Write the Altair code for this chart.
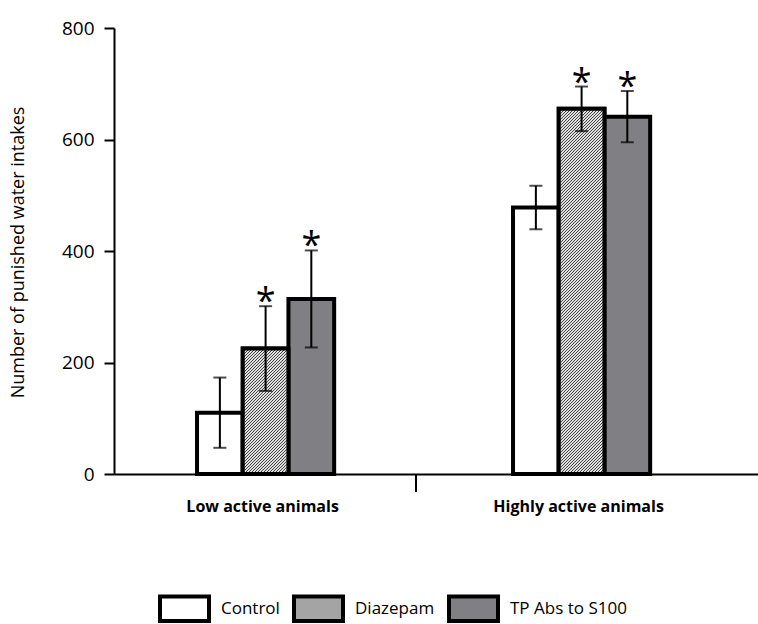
import math
import altair as alt
import pandas as pd

# ---- data ----
groups = ["Low active animals", "Highly active animals"]
series = ["Control", "Diazepam", "TP Abs to S100"]
means_low = [110, 225, 314]
means_high = [478, 655, 641]
errs_low = [63, 76, 87]
errs_high = [39, 40, 46]
stars_low = ["", "*", "*"]
stars_high = ["", "*", "*"]
series_colors = ["#ffffff", "#a4a4a4", "#808084"]
y_ticks = [0, 200, 400, 600, 800]

means = [means_low, means_high]
errs = [errs_low, errs_high]
stars = [stars_low, stars_high]

rows = []
for gi, g in enumerate(groups):
    for si, s in enumerate(series):
        m, e = means[gi][si], errs[gi][si]
        rows.append(dict(group=g, series=s, mean=m, lo=m - e, hi=m + e,
                         star=stars[gi][si]))
df = pd.DataFrame(rows)

# ---- layout ----
W, H = 644, 446
YMAX = 800
PAD_INNER, PAD_OUTER, ALIGN = 0.566, 0.302, 0.435
step = W / (len(groups) - PAD_INNER + 2 * PAD_OUTER)
bar_w = step * (1 - PAD_INNER) / len(series)


def hatch(w, h, hperiod=3.0, frac=0.45, dark="#404040", light="#e0e0e0"):
    """Diagonal '/' stripes as a hard-stop linear gradient (bbox units).
    The stripe period is fixed exactly (hperiod px horizontally)."""
    p = hperiod / math.sqrt(2)
    L = (w + h) / math.sqrt(2)
    n = math.ceil(L / p)
    stops = []
    for k in range(n):
        a, b, c = k / n, (k + frac) / n, (k + 1) / n
        stops += [{"offset": round(a, 6), "color": dark},
                  {"offset": round(b, 6), "color": dark},
                  {"offset": round(b, 6), "color": light},
                  {"offset": round(c, 6), "color": light}]
    cc = (1 / h + 1 / w) / (1 / h ** 2 + 1 / w ** 2)
    s = n * p / L
    return {"gradient": "linear", "x1": 0, "y1": 0,
            "x2": s * cc / h, "y2": s * cc / w, "stops": stops}


xscale = alt.Scale(domain=groups, paddingInner=PAD_INNER,
                   paddingOuter=PAD_OUTER, align=ALIGN)
yscale = alt.Scale(domain=[0, YMAX], nice=False)

base = alt.Chart(df).encode(
    x=alt.X("group:N", scale=xscale, sort=groups,
            axis=alt.Axis(title=None, labelAngle=0, labelFontSize=16,
                          labelFontWeight="bold", labelColor="black",
                          ticks=False, tickSize=0, labelPadding=24,
                          labelOffset=-3,
                          domainWidth=2, domainColor="black")),
    xOffset=alt.XOffset("series:N", sort=series,
                        scale=alt.Scale(domain=series, paddingInner=0,
                                        paddingOuter=0)),
)

bars = base.mark_bar(stroke="black", strokeWidth=4).encode(
    y=alt.Y("mean:Q", scale=yscale,
            axis=alt.Axis(values=y_ticks, title="Number of punished water intakes",
                          titleFontSize=18, titleFontWeight="normal",
                          titleColor="black", titleX=-96, titleY=224,
                          titleBaseline="middle", titleAlign="center",
                          labelFontSize=19, labelColor="black", labelPadding=10,
                          tickSize=10, tickWidth=2, tickColor="black",
                          domainWidth=2, domainColor="black", grid=False)),
    fill=alt.Fill("series:N", sort=series,
                  scale=alt.Scale(domain=series, range=series_colors),
                  legend=alt.Legend(
                      orient="none", legendX=44, legendY=554,
                      direction="horizontal", title=None,
                      symbolType="M-1,-0.5H1V0.5H-1Z", symbolSize=2401,
                      symbolStrokeWidth=4, symbolStrokeColor="black",
                      symbolOpacity=1, labelFontSize=17, labelColor="black",
                      labelOffset=10, columnPadding=6, padding=0,
                  )),
)

hatch_layers = []
for gi, g in enumerate(groups):
    h_px = means[gi][1] / YMAX * H
    hatch_layers.append(
        base.transform_filter(
            (alt.datum.group == g) & (alt.datum.series == "Diazepam")
        ).mark_bar(fill=hatch(bar_w, h_px), stroke="black", strokeWidth=4)
        .encode(y=alt.Y("mean:Q", scale=yscale))
    )

err_rule = base.mark_rule(color="black", strokeWidth=2).encode(
    y=alt.Y("lo:Q", scale=yscale), y2="hi:Q")
cap_hi = base.mark_tick(orient="horizontal", size=13, thickness=2,
                        color="black").encode(y=alt.Y("hi:Q", scale=yscale))
cap_lo = base.mark_tick(orient="horizontal", size=13, thickness=2,
                        color="black").encode(y=alt.Y("lo:Q", scale=yscale))
star_text = base.transform_filter(alt.datum.star != "").mark_text(
    fontSize=36, baseline="alphabetic", dy=7, color="black"
).encode(y=alt.Y("hi:Q", scale=yscale), text="star:N")

mid_tick = alt.Chart(pd.DataFrame({"k": [0]})).mark_rule(
    color="black", strokeWidth=2
).encode(x=alt.value(302), y=alt.value(H), y2=alt.value(H + 18))

chart = alt.layer(bars, *hatch_layers, err_rule, cap_hi, cap_lo, star_text,
                  mid_tick).properties(
    width=W, height=H,
    autosize=alt.AutoSizeParams(type="none"),
    padding={"left": 114, "top": 28, "right": 0, "bottom": 150},
).configure(font="Open Sans").configure_view(stroke=None)

chart.save("out.html", embed_options={"renderer": "svg", "actions": False})
